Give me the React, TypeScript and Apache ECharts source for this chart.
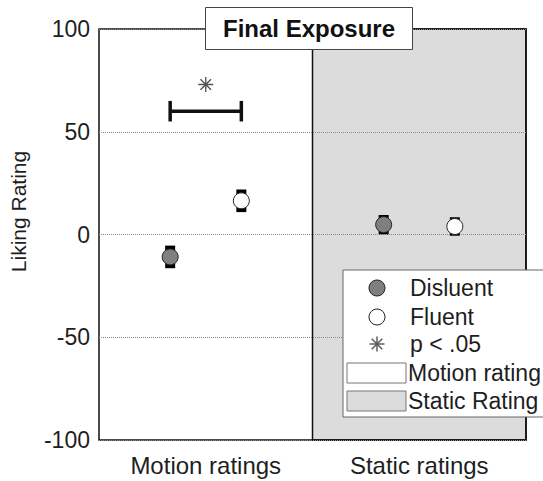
import React, { useEffect, useRef } from "react";
import * as echarts from "echarts";

const categories = ["Motion ratings", "Static ratings"];
const disfluentMeans = [-10.9, 4.8];
const disfluentErrors = [5.5, 4.7];
const fluentMeans = [16.4, 3.9];
const fluentErrors = [5.5, 4.5];
const sigCategoryIndex = 0;
const sigBarValue = 60;
const sigCapHalf = 5;
const sigStarValue = 73;
const legendLabels = ["Disluent", "Fluent", "p < .05", "Motion rating", "Static Rating"];

const FONT = "'Liberation Sans', Arial, Helvetica, sans-serif";
const TEXT = "#1e1e1e";
const OFFSET = 1 / 6;
const disX = (i: number) => i + 0.5 - OFFSET;
const fluX = (i: number) => i + 0.5 + OFFSET;

const STAR_PATH =
  "path://M-0.09,-1 L0.09,-1 L0.09,1 L-0.09,1 Z M-1,-0.09 L1,-0.09 L1,0.09 L-1,0.09 Z " +
  "M-0.77,-0.64 L-0.64,-0.77 L0.77,0.64 L0.64,0.77 Z M-0.64,0.77 L-0.77,0.64 L0.64,-0.77 L0.77,-0.64 Z";

export default function App() {
  const ref = useRef<HTMLDivElement>(null);
  useEffect(() => {
    if (!ref.current) return;
    const chart = echarts.init(ref.current, null, { renderer: "svg" });

    const errData = [
      ...disfluentMeans.map((m, i) => [disX(i), m, disfluentErrors[i]]),
      ...fluentMeans.map((m, i) => [fluX(i), m, fluentErrors[i]]),
    ];

    const lx = 377;
    const legendRows = [288, 317, 344, 373, 401];
    const starLines = [0, 45, 90, 135].map((deg) => {
      const r = (deg * Math.PI) / 180;
      const L = 7.5;
      return {
        type: "line",
        z: 101,
        shape: {
          x1: lx - L * Math.cos(r),
          y1: legendRows[2] - L * Math.sin(r),
          x2: lx + L * Math.cos(r),
          y2: legendRows[2] + L * Math.sin(r),
        },
        style: { stroke: "#555", lineWidth: 1.4 },
      };
    });

    const option: any = {
      animation: false,
      backgroundColor: "#fff",
      title: {
        text: "Final Exposure",
        left: 205,
        top: 7,
        padding: [9, 18],
        borderColor: "#444",
        borderWidth: 1,
        backgroundColor: "#fff",
        textStyle: { fontSize: 24, fontWeight: "bold", color: "#111", lineHeight: 25, fontFamily: FONT },
      },
      grid: {
        left: 99,
        right: 17,
        top: 29,
        bottom: 41,
        show: true,
        borderColor: "#111",
        borderWidth: 1.5,
        backgroundColor: "transparent",
      },
      xAxis: {
        type: "value",
        min: 0,
        max: 2,
        axisLine: { show: false },
        axisTick: { show: false },
        splitLine: { show: false },
        axisLabel: {
          customValues: [0.5, 1.5],
          formatter: (v: number) => categories[Math.floor(v)] ?? "",
          fontSize: 24,
          color: TEXT,
          margin: 13,
          fontFamily: FONT,
        },
      },
      yAxis: {
        type: "value",
        min: -100,
        max: 100,
        interval: 50,
        axisLine: { show: false },
        axisTick: { show: false },
        splitLine: { show: true, lineStyle: { type: "dotted", color: "#888", width: 1 } },
        axisLabel: { fontSize: 23, color: TEXT, margin: 9, fontFamily: FONT },
        name: "Liking Rating",
        nameLocation: "middle",
        nameGap: 70,
        nameTextStyle: { fontSize: 21, color: TEXT, fontFamily: FONT, padding: [0, 0, 0, 46] },
      },
      series: [
        {
          type: "scatter",
          data: [],
          z: -1,
          silent: true,
          markArea: {
            silent: true,
            z: -1,
            itemStyle: { color: "#dcdcdc", borderColor: "#111", borderWidth: 1.5 },
            data: [[{ xAxis: 1, yAxis: -100 }, { xAxis: 2, yAxis: 100 }]],
          },
        },
        {
          type: "custom",
          z: 3,
          data: errData,
          encode: { x: 0, y: 1 },
          renderItem: (params: any, api: any) => {
            const x = api.value(0);
            const y = api.value(1);
            const e = api.value(2);
            const top = api.coord([x, y + e]);
            const bot = api.coord([x, y - e]);
            return {
              type: "rect",
              shape: { x: top[0] - 5, y: top[1], width: 10, height: bot[1] - top[1] },
              style: { fill: "#000" },
            };
          },
        },
        {
          name: legendLabels[0],
          type: "scatter",
          z: 4,
          symbolSize: 16,
          itemStyle: { color: "#7f7f7f", borderColor: "#222", borderWidth: 1, opacity: 1 },
          data: disfluentMeans.map((m, i) => [disX(i), m]),
        },
        {
          name: legendLabels[1],
          type: "scatter",
          z: 4,
          symbolSize: 16,
          itemStyle: { color: "#fff", borderColor: "#222", borderWidth: 1, opacity: 1 },
          data: fluentMeans.map((m, i) => [fluX(i), m]),
        },
        {
          type: "custom",
          z: 4,
          data: [[disX(sigCategoryIndex), fluX(sigCategoryIndex), sigBarValue]],
          encode: { x: [0, 1], y: 2 },
          renderItem: (params: any, api: any) => {
            const a = api.coord([api.value(0), api.value(2)]);
            const b = api.coord([api.value(1), api.value(2)]);
            const capT = api.coord([api.value(0), api.value(2) + sigCapHalf]);
            const capB = api.coord([api.value(0), api.value(2) - sigCapHalf]);
            const st = { stroke: "#111", lineWidth: 3.5 };
            return {
              type: "group",
              children: [
                { type: "line", shape: { x1: a[0], y1: a[1], x2: b[0], y2: b[1] }, style: st },
                { type: "line", shape: { x1: a[0], y1: capT[1], x2: a[0], y2: capB[1] }, style: st },
                { type: "line", shape: { x1: b[0], y1: capT[1], x2: b[0], y2: capB[1] }, style: st },
              ],
            };
          },
        },
        {
          name: legendLabels[2],
          type: "scatter",
          z: 4,
          symbol: STAR_PATH,
          symbolSize: 15,
          itemStyle: { color: "#555", opacity: 1 },
          data: [[sigCategoryIndex + 0.5, sigStarValue]],
        },
      ],
      graphic: [
        {
          type: "rect",
          z: 100,
          shape: { x: 343, y: 270, width: 215, height: 147 },
          style: { fill: "#fff", stroke: "#666", lineWidth: 1 },
        },
        {
          type: "circle",
          z: 101,
          shape: { cx: lx, cy: legendRows[0], r: 8 },
          style: { fill: "#7f7f7f", stroke: "#222", lineWidth: 1 },
        },
        {
          type: "circle",
          z: 101,
          shape: { cx: lx, cy: legendRows[1], r: 8 },
          style: { fill: "#fff", stroke: "#222", lineWidth: 1 },
        },
        ...starLines,
        {
          type: "rect",
          z: 101,
          shape: { x: 347, y: 363, width: 59, height: 20 },
          style: { fill: "#fff", stroke: "#777", lineWidth: 1 },
        },
        {
          type: "rect",
          z: 101,
          shape: { x: 347, y: 391, width: 59, height: 20 },
          style: { fill: "#dcdcdc", stroke: "#777", lineWidth: 1 },
        },
        ...legendLabels.map((t, i) => ({
          type: "text",
          z: 101,
          x: i < 3 ? 410 : 408,
          y: legendRows[i],
          style: {
            text: t,
            fontSize: 23,
            fontFamily: FONT,
            fill: TEXT,
            verticalAlign: "middle",
            align: "left",
          },
        })),
      ],
    };
    chart.setOption(option);
    return () => chart.dispose();
  }, []);
  return (
    <div
      ref={ref}
      style={{ position: "fixed", left: 0, top: 0, width: 543, height: 481, background: "#fff" }}
    />
  );
}
